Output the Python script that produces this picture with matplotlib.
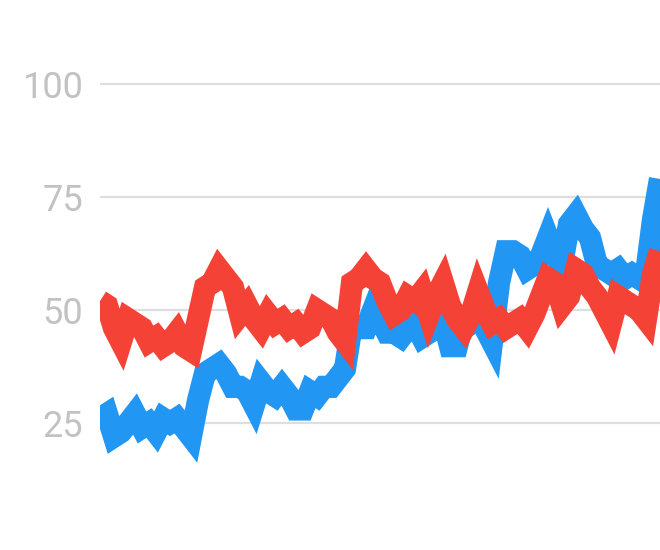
import matplotlib.pyplot as plt
import numpy as np

# weekly index values
red = [52, 51, 46, 43, 48, 47, 46, 43, 44, 42, 43, 45, 42, 41, 48, 55, 56, 59, 57, 55,
       49, 51, 48, 46, 49, 47, 48, 46, 47, 45, 46, 50, 49, 48, 45, 43, 56, 57, 59, 57,
       56, 52, 49, 50, 53, 52, 54, 49, 53, 56, 51, 48, 46, 49, 54, 50, 47, 48, 46, 47,
       48, 46, 49, 53, 57, 56, 51, 53, 59, 58, 55, 53, 50, 47, 53, 52, 51, 50, 48, 58, 63]
blue = [26, 27, 22, 23, 25, 27, 24, 25, 23, 26, 25, 26, 24, 22, 30, 36, 37, 38, 36, 33,
        33, 32, 29, 34, 32, 31, 33, 31, 28, 28, 32, 31, 33, 33, 35, 37, 47, 46, 46, 50,
        48, 45, 45, 44, 46, 47, 44, 45, 46, 48, 42, 42, 48, 47, 48, 46, 43, 56, 63, 63,
        62, 59, 60, 62, 66, 62, 60, 69, 71, 68, 66, 60, 59, 58, 59, 57, 58, 57, 58, 70, 79]
yticks = [25, 50, 75, 100]

weeks = np.arange(len(red))

fig = plt.figure(figsize=(6.6, 5.5), dpi=100)
ax = fig.add_axes([100 / 660, 0, 560 / 660, 1])

ax.plot(weeks, blue, color='#2196F3', lw=16, solid_joinstyle='miter', solid_capstyle='butt')
ax.plot(weeks, red, color='#F44336', lw=16, solid_joinstyle='miter', solid_capstyle='butt')

ax.set_xlim(0, len(red) - 1)
ax.set_ylim(-3.1, 118.6)
ax.set_xticks([])
ax.set_yticks(yticks)
ax.set_yticklabels([str(v) for v in yticks], fontsize=26, color='#c2c2c2', family='Roboto')
ax.tick_params(axis='y', length=0, pad=12)
ax.grid(axis='y', color='#dedede', lw=1.6)
ax.set_axisbelow(True)
for s in ax.spines.values():
    s.set_visible(False)

fig.savefig('out.png', dpi=100)
